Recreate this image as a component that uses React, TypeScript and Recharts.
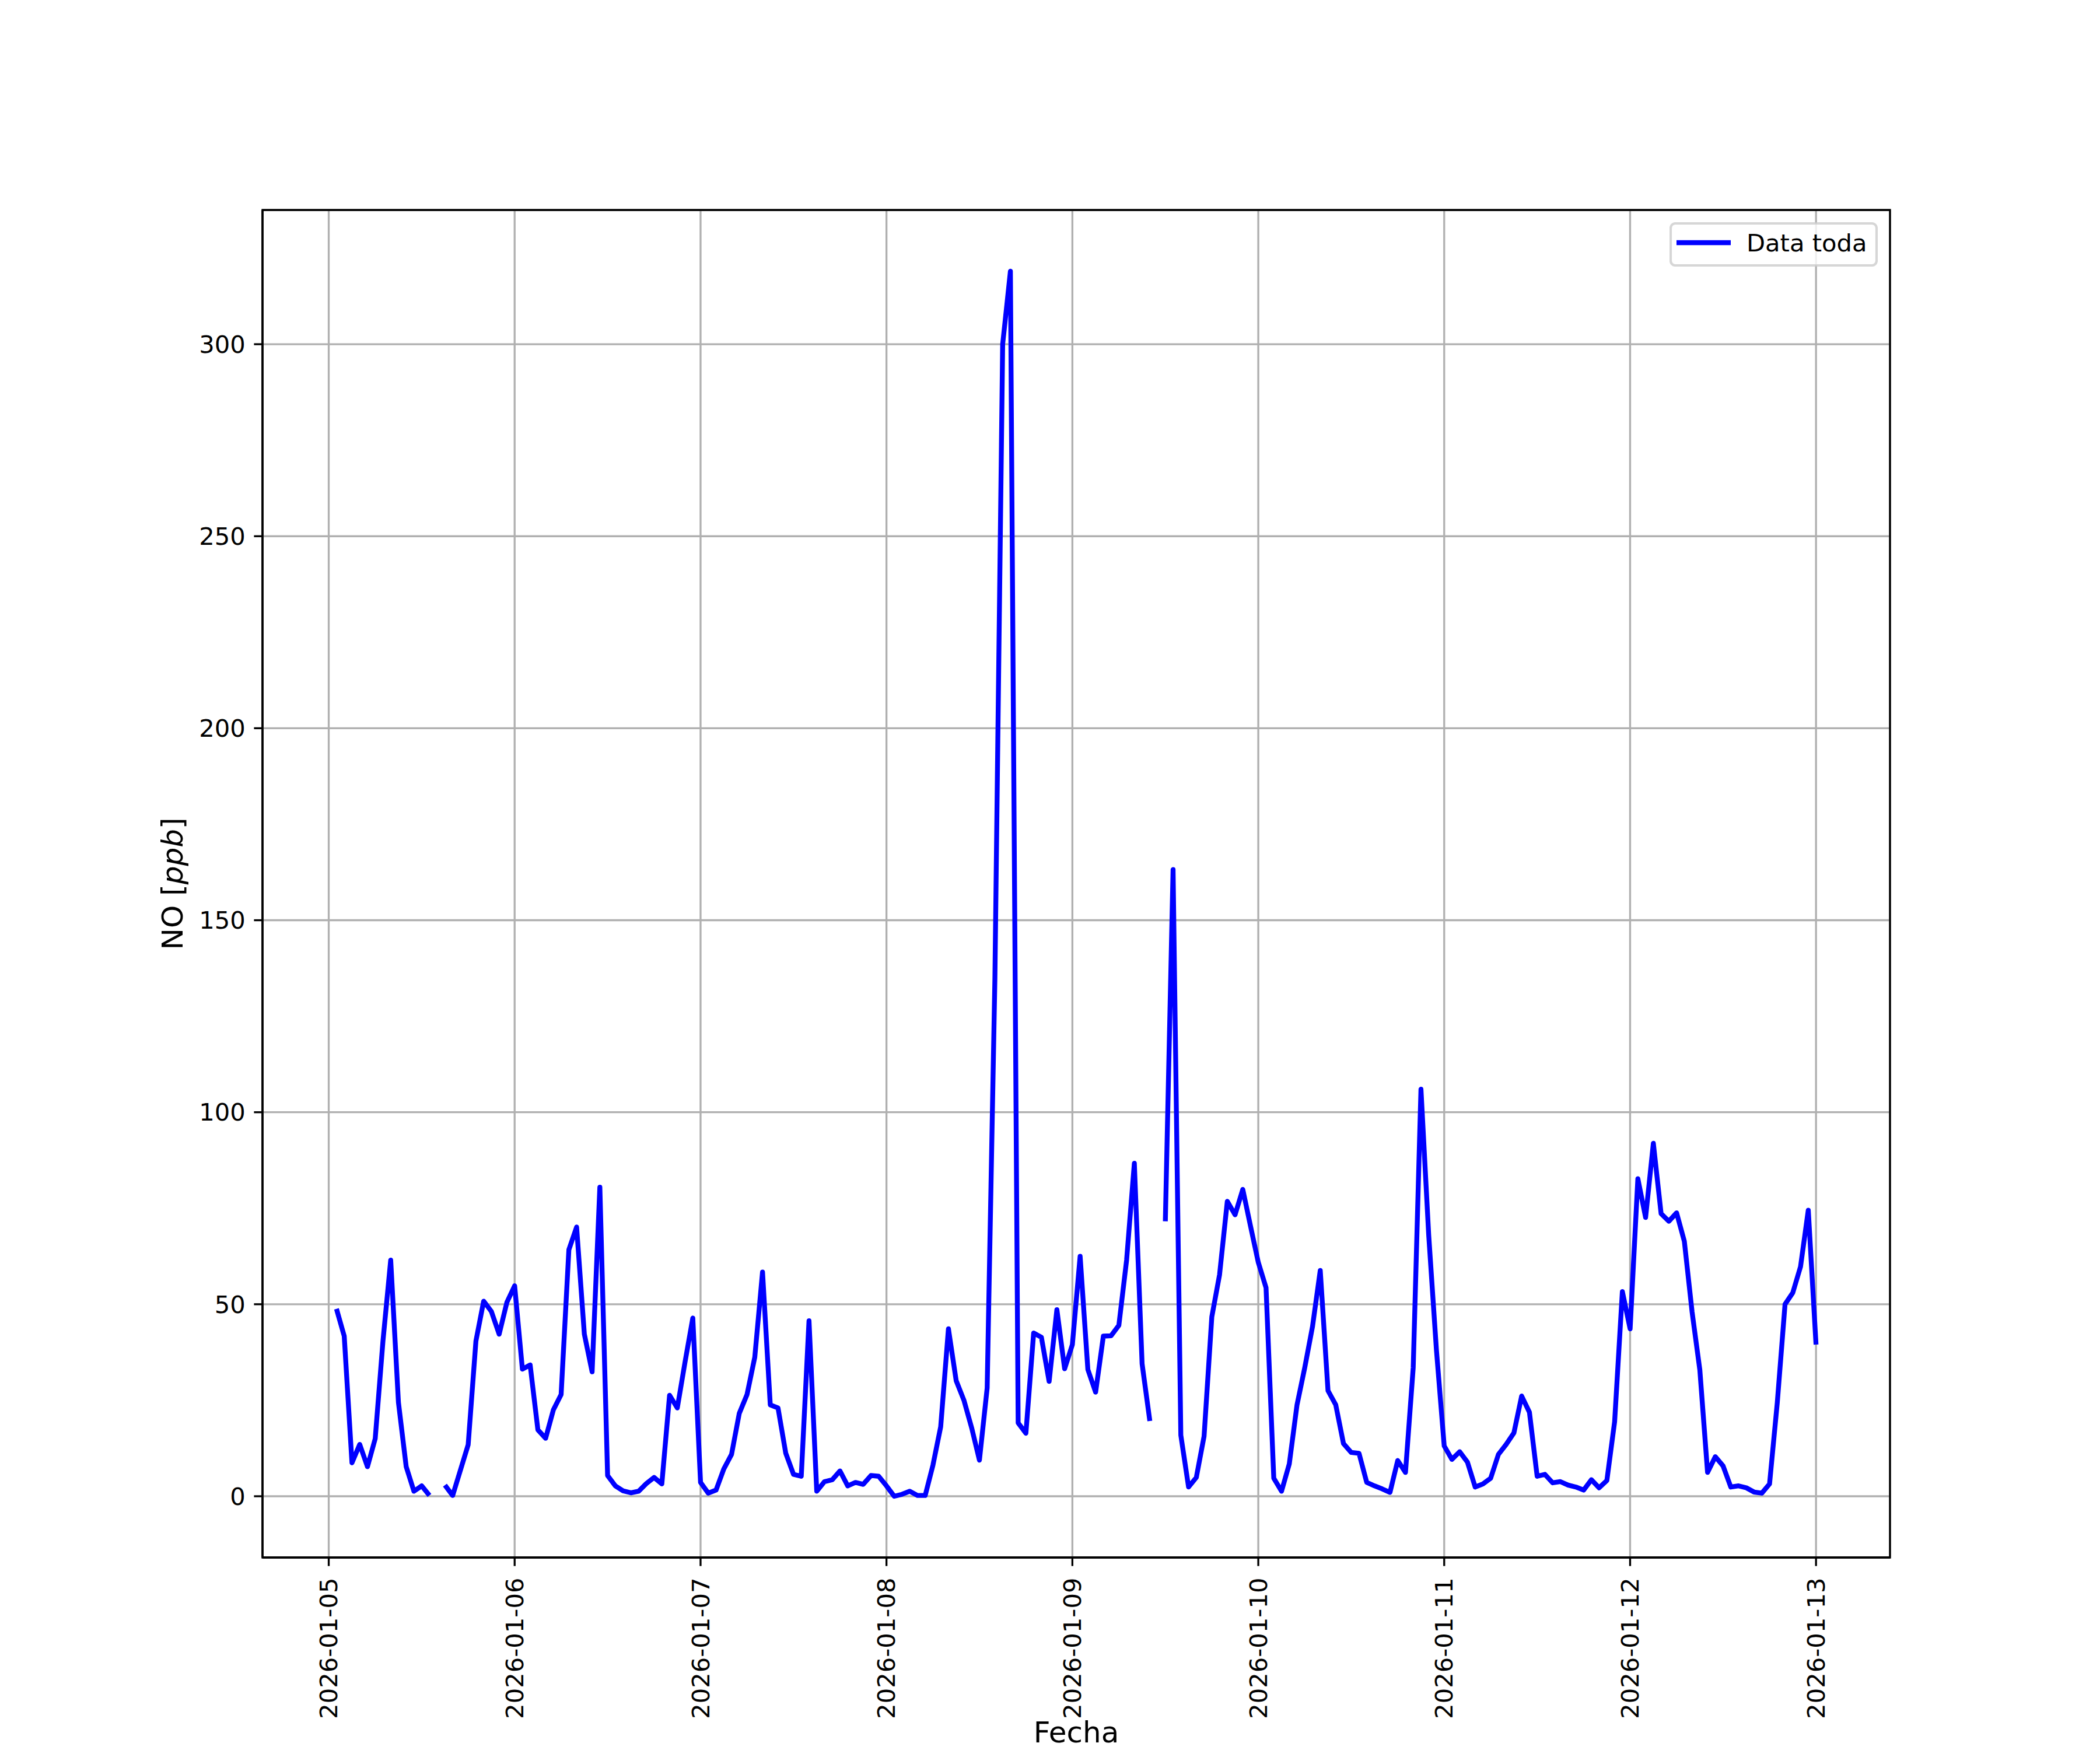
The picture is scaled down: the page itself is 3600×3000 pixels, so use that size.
import { LineChart, Line, XAxis, YAxis, CartesianGrid, ReferenceArea, Legend, Label } from 'recharts';

// NO hourly readings, one array per day (hour 0..23), null = no data
const jan05 = [null, 48.8, 41.7, 8.7, 13.5, 7.7, 15.0, 40.4, 61.5, 24.4, 7.7, 1.3, 2.7, 0.2, null, 2.9, 0.2, 6.8, 13.4, 40.4, 50.8, 48.1, 42.2, 50.5];
const jan06 = [54.8, 33.1, 34.2, 17.3, 15.1, 22.5, 26.5, 64.2, 70.1, 42.2, 32.4, 80.5, 5.4, 2.7, 1.4, 0.9, 1.3, 3.3, 4.9, 3.2, 26.3, 23.0, 35.0, 46.4];
const jan07 = [3.6, 0.8, 1.6, 7.1, 10.9, 21.6, 26.5, 36.2, 58.4, 23.8, 23.0, 11.2, 5.7, 5.2, 45.7, 1.3, 3.8, 4.3, 6.6, 2.7, 3.6, 3.1, 5.4, 5.2];
const jan08 = [2.7, 0.0, 0.5, 1.3, 0.2, 0.2, 8.1, 18.1, 43.6, 30.1, 25.0, 17.8, 9.4, 28.2, 135, 300, 319, 19.1, 16.4, 42.5, 41.4, 29.9, 48.6, 33.2];
const jan09 = [39.5, 62.5, 33.0, 27.1, 41.7, 41.8, 44.5, 61.5, 86.7, 34.5, 19.6, null, 71.6, 163.2, 15.9, 2.4, 4.9, 15.6, 46.7, 57.7, 76.8, 73.3, 79.9, 70.3];
const jan10 = [60.9, 54.3, 4.7, 1.3, 8.4, 23.8, 33.5, 44.2, 58.8, 27.5, 23.8, 13.7, 11.4, 11.2, 3.6, 2.7, 1.9, 1.0, 9.3, 6.2, 33.5, 106, 68, 38];
const jan11 = [13.1, 9.6, 11.6, 8.9, 2.4, 3.2, 4.7, 10.9, 13.5, 16.5, 26.1, 21.9, 5.2, 5.7, 3.5, 3.8, 2.9, 2.4, 1.6, 4.3, 2.2, 4.1, 19.4, 53.3];
const jan12 = [43.6, 82.7, 72.6, 91.9, 73.6, 71.6, 73.8, 66.4, 48.0, 32.9, 6.2, 10.3, 7.9, 2.4, 2.7, 2.2, 1.1, 0.8, 3.2, 24.4, 50.0, 53.0, 59.8, 74.5];
const jan13 = [39.5];

const days = ['2026-01-05', '2026-01-06', '2026-01-07', '2026-01-08', '2026-01-09', '2026-01-10', '2026-01-11', '2026-01-12', '2026-01-13'];
const dayValues = [jan05, jan06, jan07, jan08, jan09, jan10, jan11, jan12, jan13];
const yTicks = [0, 50, 100, 150, 200, 250, 300];

const data = dayValues.flatMap((vals, d) => vals.map((v, h) => ({ t: d * 24 + h, no: v })));
const xTicks = days.map((_, i) => i * 24);

// matplotlib-style 5% autoscale margins
const present = data.filter((p) => p.no !== null);
const tMin = present[0].t;
const tMax = present[present.length - 1].t;
const vMin = Math.min(...present.map((p) => p.no as number));
const vMax = Math.max(...present.map((p) => p.no as number));
const xDomain = [tMin - 0.05 * (tMax - tMin), tMax + 0.05 * (tMax - tMin)];
const yDomain = [vMin - 0.05 * (vMax - vMin), vMax + 0.05 * (vMax - vMin)];

const FONT = '"DejaVu Sans", sans-serif';
const TICK_FS = 41.67;
const LABEL_FS = 50;

function DateTick({ x, y, payload }: any) {
  return (
    <text
      transform={`translate(${x},${y}) rotate(-90)`}
      textAnchor="end"
      dy="0.35em"
      fontSize={TICK_FS}
      fontFamily={FONT}
      fill="#000"
    >
      {days[Math.round(payload.value / 24)]}
    </text>
  );
}

const renderLegend = () => (
  <svg width={357} height={76} style={{ display: 'block' }}>
    <rect x={2} y={2} width={353} height={72} rx={8} fill="#fff" fillOpacity={0.8} stroke="#cccccc" strokeOpacity={0.8} strokeWidth={4.17} />
    <line x1={12} x2={105} y1={35} y2={35} stroke="#0000ff" strokeWidth={8.33} />
    <text x={132} y={50} fontSize={TICK_FS} fontFamily={FONT} fill="#000">Data toda</text>
  </svg>
);

export default function App() {
  return (
    <div style={{ position: 'absolute', left: 0, top: 0, width: 3600, height: 3000, background: '#fff' }}>
      <LineChart width={3600} height={3000} data={data} margin={{ top: 360, right: 360, bottom: 30, left: 300 }}>
        <CartesianGrid stroke="#b0b0b0" strokeWidth={3.33} />
        <XAxis
          dataKey="t"
          type="number"
          domain={xDomain}
          allowDataOverflow
          ticks={xTicks}
          interval={0}
          height={300}
          tick={<DateTick />}
          tickSize={14.6}
          tickMargin={20}
          tickLine={{ stroke: '#000', strokeWidth: 3.33 }}
          axisLine={{ stroke: '#000', strokeWidth: 3.33 }}
        >
          <Label
            content={({ viewBox }: any) => (
              <text x={viewBox.x + viewBox.width / 2} y={2987} textAnchor="middle" fontSize={LABEL_FS} fontFamily={FONT} fill="#000">
                Fecha
              </text>
            )}
          />
        </XAxis>
        <YAxis
          type="number"
          domain={yDomain}
          allowDataOverflow
          ticks={yTicks}
          interval={0}
          width={150}
          tick={{ fontSize: TICK_FS, fontFamily: FONT, fill: '#000' }}
          tickSize={14.6}
          tickMargin={14.6}
          tickLine={{ stroke: '#000', strokeWidth: 3.33 }}
          axisLine={{ stroke: '#000', strokeWidth: 3.33 }}
        >
          <Label
            content={({ viewBox }: any) => {
              const cy = viewBox.y + viewBox.height / 2;
              return (
                <text transform={`translate(313,${cy}) rotate(-90)`} textAnchor="middle" fontSize={LABEL_FS} fontFamily={FONT} fill="#000">
                  NO [<tspan fontStyle="italic">ppb</tspan>]
                </text>
              );
            }}
          />
        </YAxis>
        <Line
          type="linear"
          dataKey="no"
          name="Data toda"
          stroke="#0000ff"
          strokeWidth={8.33}
          strokeLinejoin="round"
          dot={false}
          activeDot={false}
          connectNulls={false}
          isAnimationActive={false}
        />
        <ReferenceArea
          x1={xDomain[0]}
          x2={xDomain[1]}
          y1={yDomain[0]}
          y2={yDomain[1]}
          fill="none"
          stroke="#000"
          strokeWidth={3.33}
        />
        <Legend
          layout="horizontal"
          verticalAlign="middle"
          align="center"
          content={renderLegend}
          wrapperStyle={{ position: 'absolute', left: 2862, top: 381, width: 357, height: 76, margin: 0, padding: 0, lineHeight: 0 }}
        />
      </LineChart>
    </div>
  );
}
